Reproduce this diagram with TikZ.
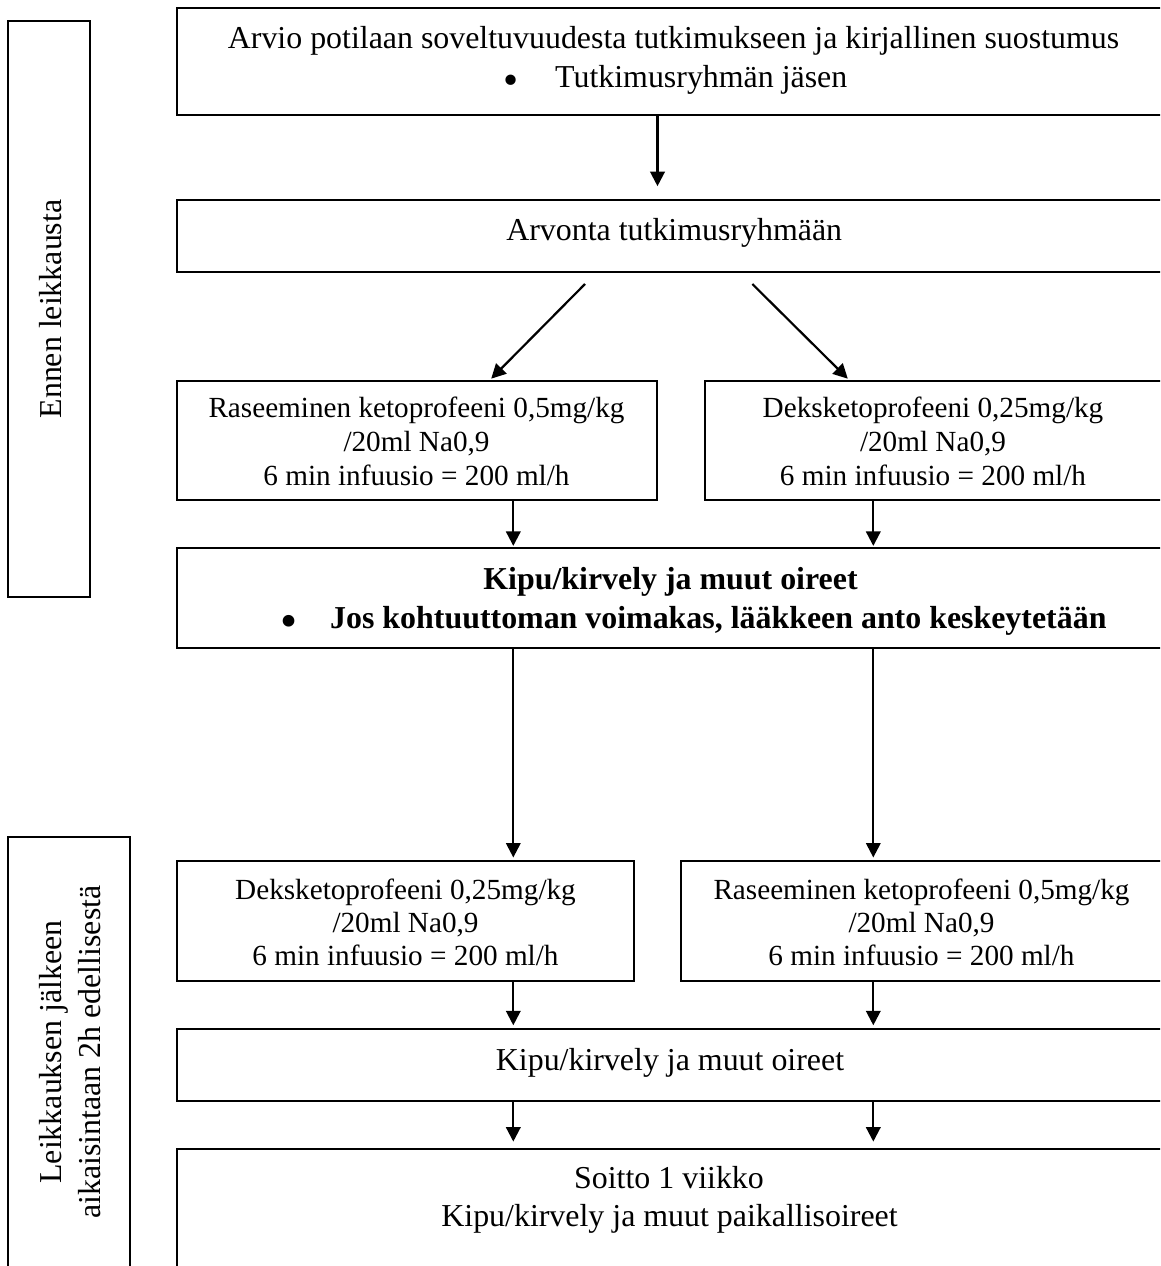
\documentclass[tikz,border=0pt]{standalone}
\usepackage{fontspec}
\setmainfont{Liberation Serif}
\usetikzlibrary{arrows.meta,fit}
\newcommand{\bigdot}{\raisebox{-7pt}{\scalebox{1.35}{\textbullet}}}
\begin{document}
\begin{tikzpicture}[x=1pt,y=-1pt,
  box/.style={draw, line width=2.2pt, inner sep=0pt},
  big/.style={inner sep=0pt, font=\fontsize{31.9}{38.5}\selectfont},
  bigb/.style={inner sep=0pt, font=\fontsize{31.9}{38.5}\selectfont\bfseries},
  small/.style={inner sep=0pt, font=\fontsize{29.2}{33.5}\selectfont},
  arr/.style={line width=2.2pt, -{Triangle[width=14.5pt,length=14.5pt]}}]
\useasboundingbox (0,0) rectangle (1160,1266);
\clip (0,0) rectangle (1160,1266);
\fill[white] (0,0) rectangle (1160,1266);

% side boxes
\node[box, fit={(8,21) (90,597)}] (sb1) {};
\node[box, fit={(8,837) (130,1290)}] (sb2) {};
\node[big, anchor=base, rotate=90] (sb1t) at (61,309) {Ennen leikkausta};
\node[big, anchor=base, rotate=90] (sb2a) at (61.6,1052) {Leikkauksen jälkeen};
\node[big, anchor=base, rotate=90] (sb2b) at (100,1052) {aikaisintaan 2h edellisestä};

% main boxes
\node[box, fit={(177,8) (1165,115)}] (b1) {};
\node[box, fit={(177,200) (1165,272)}] (b2) {};
\node[box, fit={(177,381) (657,500)}] (b3l) {};
\node[box, fit={(705,381) (1165,500)}] (b3r) {};
\node[box, fit={(177,548) (1165,648)}] (b4) {};
\node[box, fit={(177,861) (634,981)}] (b5l) {};
\node[box, fit={(681,861) (1165,981)}] (b5r) {};
\node[box, fit={(177,1029) (1165,1101)}] (b6) {};
\node[box, fit={(177,1149) (1165,1290)}] (b7) {};

% texts
\node[big, anchor=base] (t1a) at (673.5,48.3) {Arvio potilaan soveltuvuudesta tutkimukseen ja kirjallinen suostumus};
\node[big, anchor=base] (t1b) at (510.7,87.3) {\bigdot};
\node[big, anchor=base west] (t1c) at (555,87.3) {Tutkimusryhmän jäsen};

\node[big, anchor=base] (t2) at (674.2,240) {Arvonta tutkimusryhmään};

\node[small, anchor=base] (t3la) at (416.5,417.7) {Raseeminen ketoprofeeni 0,5mg/kg};
\node[small, anchor=base] (t3lb) at (416.5,451.4) {/20ml Na0,9};
\node[small, anchor=base] (t3lc) at (416.5,485.2) {6 min infuusio = 200 ml/h};
\node[small, anchor=base] (t3ra) at (933,417.7) {Deksketoprofeeni 0,25mg/kg};
\node[small, anchor=base] (t3rb) at (933,451.4) {/20ml Na0,9};
\node[small, anchor=base] (t3rc) at (933,485.2) {6 min infuusio = 200 ml/h};

\node[bigb, anchor=base] (t4a) at (670.5,589.3) {Kipu/kirvely ja muut oireet};
\node[bigb, anchor=base] (t4b) at (289.5,628.3) {\bigdot};
\node[bigb, anchor=base west] (t4c) at (330,628.3) {Jos kohtuuttoman voimakas, lääkkeen anto keskeytetään};

\node[small, anchor=base] (t5la) at (405.5,899.3) {Deksketoprofeeni 0,25mg/kg};
\node[small, anchor=base] (t5lb) at (405.5,932.6) {/20ml Na0,9};
\node[small, anchor=base] (t5lc) at (405.5,965.9) {6 min infuusio = 200 ml/h};
\node[small, anchor=base] (t5ra) at (921.5,899.3) {Raseeminen ketoprofeeni 0,5mg/kg};
\node[small, anchor=base] (t5rb) at (921.5,932.6) {/20ml Na0,9};
\node[small, anchor=base] (t5rc) at (921.5,965.9) {6 min infuusio = 200 ml/h};

\node[big, anchor=base] (t6) at (670,1070) {Kipu/kirvely ja muut oireet};

\node[big, anchor=base] (t7a) at (669,1188.3) {Soitto 1 viikko};
\node[big, anchor=base] (t7b) at (669.5,1226.7) {Kipu/kirvely ja muut paikallisoireet};

% arrow positions
\coordinate (xA) at (657.5,0);
\coordinate (xL) at (513.3,0);
\coordinate (xR) at (873.3,0);
\coordinate (d1s) at (585,284);
\coordinate (d2s) at (752.3,284);
\coordinate (d1e) at (490,0);
\coordinate (d2e) at (849,0);

\draw[arr, shorten >=12.7pt] (b1.south -| xA) -- (b2.north -| xA);
\draw[arr, shorten >=1.7pt] (d1s) -- (b3l.north -| d1e);
\draw[arr, shorten >=1.7pt] (d2s) -- (b3r.north -| d2e);
\draw[arr, shorten >=1pt] (b3l.south -| xL) -- (b4.north -| xL);
\draw[arr, shorten >=1pt] (b3r.south -| xR) -- (b4.north -| xR);
\draw[arr, shorten >=2.4pt] (b4.south -| xL) -- (b5l.north -| xL);
\draw[arr, shorten >=2.4pt] (b4.south -| xR) -- (b5r.north -| xR);
\draw[arr, shorten >=2.6pt] (b5l.south -| xL) -- (b6.north -| xL);
\draw[arr, shorten >=2.6pt] (b5r.south -| xR) -- (b6.north -| xR);
\draw[arr, shorten >=6.3pt] (b6.south -| xL) -- (b7.north -| xL);
\draw[arr, shorten >=6.3pt] (b6.south -| xR) -- (b7.north -| xR);
\end{tikzpicture}
\end{document}
